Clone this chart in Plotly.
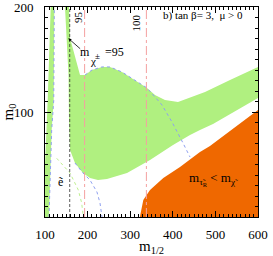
import plotly.graph_objects as go

FONT = "Liberation Serif"

# ---- data (m_1/2, m_0) ----
left_strip_x = [100, 109.4, 115.7, 120.5, 121.8, 113.4, 106.3, 101.6, 100, 100]
left_strip_y = [0, 0, 83, 111, 200, 200, 111, 73, 49.5, 0]

big_green_x = [146.9, 156.3, 158.7, 182.2, 193.9, 210.3, 233.8, 252.6, 280.7, 311.3, 339.4,
               358.2, 381.7, 412.2, 435.7, 475.6, 534.3, 600,
               600, 546, 494.4, 463.8, 440.4, 400.5, 346.5, 292.5, 245.5, 224.4, 205.6,
               189.2, 170.4, 158.7, 156.3, 155.2, 151.6, 146.9]
big_green_y = [200, 200, 170.5, 135.2, 135.2, 140, 142.9, 142.9, 138.1, 130.5, 122.9,
               116.2, 111.4, 109.5, 113.3, 119, 130.5, 142.9,
               113.3, 101, 88.6, 82.9, 78.1, 68.6, 54.3, 41.9, 36.2, 35.2, 37.1,
               41.9, 51.4, 63.8, 92.4, 135.2, 170.5, 200]

stau_x = [322.7, 330.8, 346.5, 377.7, 416.9, 463.8, 487.3, 557.7, 600, 600, 322.7]
stau_y = [0, 16.2, 25.7, 37.1, 47.6, 61.9, 67.6, 89.5, 101.9, 0, 0]

blue_upper_x = [193.9, 210.3, 233.8, 252.6, 280.7, 311.3, 339.4, 374.6, 398.1, 423.9, 440.4]
blue_upper_y = [135.2, 140, 142.9, 142.9, 138.1, 130.5, 122.9, 106.7, 90.5, 70.5, 57.1]

blue_lower_x = [170.4, 189.2, 205.6, 222.0, 229.1, 233.8]
blue_lower_y = [51.4, 41.9, 35.2, 23.8, 13.3, 0]

blue_left_x = [109.4, 115.7, 120.5, 121.8]
blue_left_y = [0, 83, 111, 200]

selectron_x = [127.5, 158.7, 178.2, 186.1, 189.9]
selectron_y = [55.9, 41.9, 25.7, 13.3, 0]

chargino_m12 = 158
higgs95_m12 = 193
higgs100_m12 = 338

x_ticks = [100, 200, 300, 400, 500, 600]
y_ticks = [100, 200]

fig = go.Figure()

fig.add_trace(go.Scatter(x=left_strip_x, y=left_strip_y, fill="toself", mode="lines",
                         fillcolor="#b0f080", line=dict(width=0), hoverinfo="skip"))
fig.add_trace(go.Scatter(x=big_green_x, y=big_green_y, fill="toself", mode="lines",
                         fillcolor="#b0f080", line=dict(width=0), hoverinfo="skip"))
fig.add_trace(go.Scatter(x=stau_x, y=stau_y, fill="toself", mode="lines",
                         fillcolor="#ef6800", line=dict(width=0), hoverinfo="skip"))

fig.add_trace(go.Scatter(x=blue_upper_x, y=blue_upper_y, mode="lines",
                         line=dict(color="#8fa0f0", width=1, dash="dot")))
fig.add_trace(go.Scatter(x=blue_lower_x, y=blue_lower_y, mode="lines",
                         line=dict(color="#8fa0f0", width=1, dash="dot")))
fig.add_trace(go.Scatter(x=blue_left_x, y=blue_left_y, mode="lines",
                         line=dict(color="#8fa0f0", width=1, dash="dot")))
fig.add_trace(go.Scatter(x=selectron_x, y=selectron_y, mode="lines",
                         line=dict(color="#c0f090", width=1, dash="dot")))

fig.add_trace(go.Scatter(x=[chargino_m12, chargino_m12], y=[0, 200], mode="lines",
                         line=dict(color="#333333", width=0.8, dash="3px,2px")))
for xv in (higgs95_m12, higgs100_m12):
    fig.add_trace(go.Scatter(x=[xv, xv], y=[0, 200], mode="lines",
                             line=dict(color="#f4a0a0", width=1, dash="dashdot")))

def txt(x, y, s, size=12, angle=0, xanchor="center"):
    fig.add_annotation(x=x, y=y, text=s, showarrow=False, textangle=angle,
                       xanchor=xanchor, yanchor="middle",
                       font=dict(family=FONT, size=size, color="black"))

txt(472, 192, "b) tan β= 3,  μ > 0", 11)
txt(176.3, 190, "95", 11, angle=-90)
txt(312.4, 184.8, "100", 11, angle=-90)
txt(193.9, 157.1, "m", 12)
txt(213.4, 148.6, "χ", 11)
txt(224.4, 153.3, "±", 9)
txt(262, 157.1, "=95", 12)
txt(136.4, 33.3, "ẽ", 12)
txt(495, 36, "m<sub>τ̃<sub>R</sub></sub> < m<sub>χ̃</sub>", 13)

fig.add_annotation(x=154.7, y=170.2, ax=186.1, ay=159, xref="x", yref="y",
                   axref="x", ayref="y", showarrow=True, arrowhead=2, arrowsize=0.8,
                   arrowwidth=0.8, arrowcolor="black", text="")

axis_common = dict(showgrid=False, zeroline=False, showline=True, linecolor="black",
                   linewidth=1, mirror="ticks", ticks="inside", ticklen=6, tickwidth=1,
                   tickcolor="black", tickfont=dict(family=FONT, size=13, color="black"),
                   automargin=False, ticklabeloverflow="allow",
                   minor=dict(ticks="inside", ticklen=3, tickcolor="black", dtick=10))

fig.update_xaxes(range=[100, 600], tickvals=x_ticks, ticklabelstandoff=5,
                 title=dict(text="m<sub>1/2</sub>", font=dict(family=FONT, size=15, color="black")),
                 **axis_common)
fig.update_yaxes(range=[0, 200], tickvals=y_ticks, ticklabelstandoff=8,
                 title=dict(text="m<sub>0</sub>", font=dict(family=FONT, size=15, color="black")),
                 **axis_common)

fig.update_layout(width=273, height=256, margin=dict(l=45, r=15, t=7, b=39),
                  plot_bgcolor="white", paper_bgcolor="white", showlegend=False)

fig.write_html("out.html", config={"displayModeBar": False},
               post_script="document.body.style.margin='0';")
